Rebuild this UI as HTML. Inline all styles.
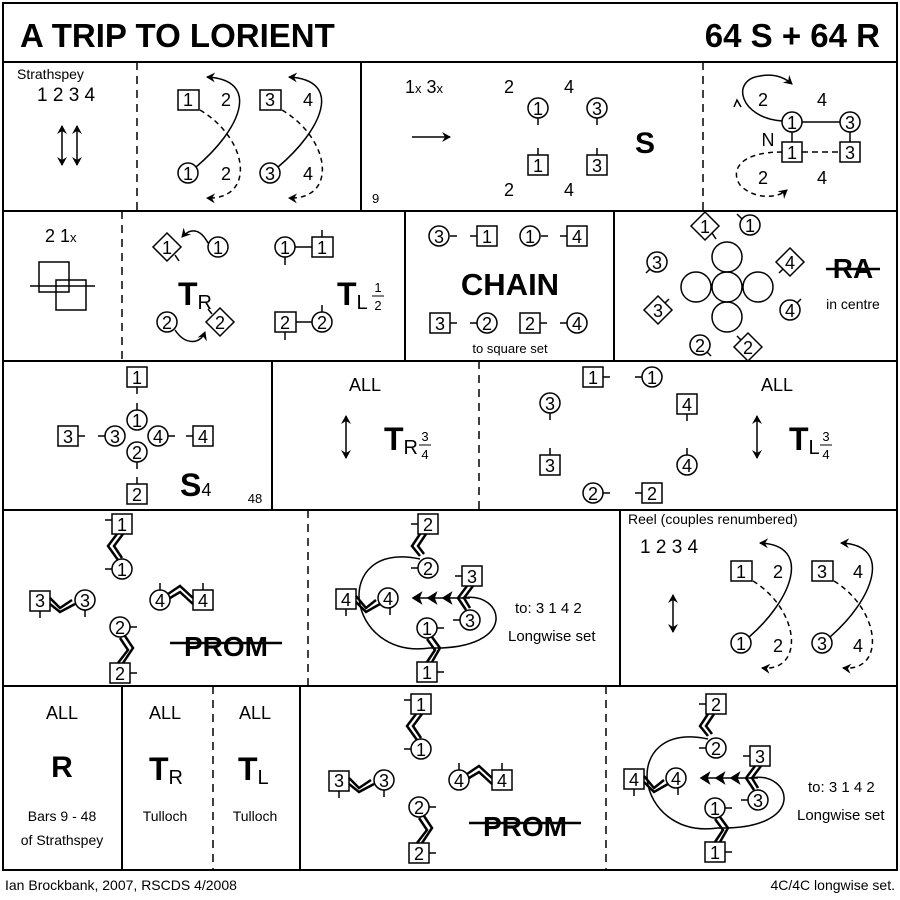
<!DOCTYPE html>
<html><head><meta charset="utf-8"><style>
html,body{margin:0;padding:0;background:#fff}
svg{display:block}
text{font-family:"Liberation Sans",sans-serif;fill:#000}
.n{font-size:18px;text-anchor:middle;dominant-baseline:central}
.s{font-size:14px}
.b{font-weight:bold}
.m{text-anchor:middle}
</style></head><body>
<svg width="900" height="900" viewBox="0 0 900 900" xmlns="http://www.w3.org/2000/svg" fill="none" stroke="#000" stroke-width="1.5">
<defs>
<marker id="ah" markerWidth="10" markerHeight="10" refX="8" refY="5" orient="auto-start-reverse" markerUnits="userSpaceOnUse"><path d="M0,0 L9,5 L0,10 L3,5 Z" fill="#000" stroke="none"/></marker>
</defs>
<!-- frame -->
<rect x="3" y="3" width="894" height="867" stroke-width="2"/>
<g stroke-width="2">
<line x1="3" y1="62" x2="897" y2="62"/><line x1="3" y1="211" x2="897" y2="211"/>
<line x1="3" y1="361" x2="897" y2="361"/><line x1="3" y1="510" x2="897" y2="510"/>
<line x1="3" y1="686" x2="897" y2="686"/>
<line x1="361" y1="62" x2="361" y2="211"/><line x1="405" y1="211" x2="405" y2="361"/>
<line x1="614" y1="211" x2="614" y2="361"/><line x1="272" y1="361" x2="272" y2="510"/>
<line x1="620" y1="510" x2="620" y2="686"/><line x1="122" y1="686" x2="122" y2="870"/>
<line x1="300" y1="686" x2="300" y2="870"/>
</g>
<g stroke-dasharray="8,6">
<line x1="137" y1="62" x2="137" y2="211"/><line x1="703" y1="62" x2="703" y2="211"/>
<line x1="122" y1="211" x2="122" y2="361"/><line x1="479" y1="361" x2="479" y2="510"/>
<line x1="308" y1="510" x2="308" y2="686"/><line x1="213" y1="686" x2="213" y2="870"/>
<line x1="606" y1="686" x2="606" y2="870"/>
</g>
<g stroke="none">
<text x="20" y="47" class="b" font-size="33">A TRIP TO LORIENT</text>
<text x="880" y="47" class="b" font-size="33" text-anchor="end">64 S + 64 R</text>
<text x="5" y="890" class="s">Ian Brockbank, 2007, RSCDS 4/2008</text>
<text x="895" y="890" class="s" text-anchor="end">4C/4C longwise set.</text>
</g>

<!-- ROW 1 -->
<g stroke="none">
<text x="17" y="79" class="s">Strathspey</text>
<text x="37" y="101" font-size="19">1 2 3 4</text>
</g>
<line x1="62" y1="126" x2="62" y2="165" marker-start="url(#ah)" marker-end="url(#ah)"/>
<line x1="77" y1="126" x2="77" y2="165" marker-start="url(#ah)" marker-end="url(#ah)"/>
<g>
<rect x="178" y="90" width="21" height="20"/><rect x="260" y="90" width="21" height="20"/>
<circle cx="188" cy="173" r="10"/><circle cx="270" cy="173" r="10"/>
<path d="M196,167 C240,130 262,80 207,77" marker-end="url(#ah)"/>
<path d="M278,167 C322,130 344,80 289,77" marker-end="url(#ah)"/>
<path d="M200,110 C250,140 255,200 207,198" stroke-dasharray="5,4" marker-end="url(#ah)"/>
<path d="M282,110 C332,140 337,200 289,198" stroke-dasharray="5,4" marker-end="url(#ah)"/>
</g>
<g stroke="none">
<text x="188" y="100" class="n">1</text><text x="226" y="100" class="n">2</text>
<text x="270" y="100" class="n">3</text><text x="308" y="100" class="n">4</text>
<text x="188" y="174" class="n">1</text><text x="226" y="174" class="n">2</text>
<text x="270" y="174" class="n">3</text><text x="308" y="174" class="n">4</text>
<text x="405" y="93" font-size="18">1<tspan font-size="13">x</tspan> 3<tspan font-size="13">x</tspan></text>
<text x="372" y="203" font-size="13">9</text>
<text x="509" y="87" class="n">2</text><text x="569" y="87" class="n">4</text>
<text x="509" y="190" class="n">2</text><text x="569" y="190" class="n">4</text>
<text x="538" y="109" class="n">1</text><text x="597" y="109" class="n">3</text>
<text x="538" y="166" class="n">1</text><text x="597" y="166" class="n">3</text>
<text x="645" y="153" class="b m" font-size="30">S</text>
</g>
<line x1="412" y1="137" x2="450" y2="137" marker-end="url(#ah)"/>
<circle cx="538" cy="108" r="10"/><circle cx="597" cy="108" r="10"/>
<line x1="538" y1="118" x2="538" y2="125"/><line x1="597" y1="118" x2="597" y2="125"/>
<rect x="528" y="155" width="20" height="20"/><rect x="587" y="155" width="20" height="20"/>
<line x1="538" y1="148" x2="538" y2="155"/><line x1="597" y1="148" x2="597" y2="155"/>
<!-- right of row 1 -->
<circle cx="792" cy="122" r="10"/><circle cx="850" cy="122" r="10"/>
<line x1="802" y1="122" x2="840" y2="122"/>
<rect x="782" y="142" width="20" height="20"/><rect x="840" y="142" width="20" height="20"/>
<line x1="792" y1="132" x2="792" y2="142"/><line x1="850" y1="132" x2="850" y2="142"/>
<line x1="802" y1="152" x2="840" y2="152" stroke-dasharray="6,4"/>
<path d="M782,121 C740,118 730,80 760,76 C775,73 785,78 792,84" marker-end="url(#ah)"/>
<path d="M734,107 L737,100 L741,107" />
<path d="M782,152 C740,152 730,170 740,185 C752,198 775,200 787,190" stroke-dasharray="5,4" marker-end="url(#ah)"/>
<g stroke="none">
<text x="763" y="100" class="n">2</text><text x="822" y="100" class="n">4</text>
<text x="768" y="140" class="n" font-size="14">N</text>
<text x="792" y="123" class="n">1</text><text x="850" y="123" class="n">3</text>
<text x="792" y="153" class="n">1</text><text x="850" y="153" class="n">3</text>
<text x="763" y="178" class="n">2</text><text x="822" y="178" class="n">4</text>
</g>

<!-- ROW 2 -->
<g stroke="none"><text x="45" y="242" font-size="18">2 1<tspan font-size="13">x</tspan></text></g>
<rect x="39" y="262" width="30" height="30"/><rect x="56" y="280" width="30" height="30"/>
<line x1="30" y1="286" x2="95" y2="286"/>
<g>
<path d="M167,233 L181,247 L167,261 L153,247 Z"/><line x1="175" y1="255" x2="179" y2="261"/>
<circle cx="218" cy="247" r="10"/>
<path d="M208,243 C200,228 190,228 182,237" marker-end="url(#ah)"/>
<circle cx="167" cy="322" r="10"/>
<path d="M220,308 L234,322 L220,336 L206,322 Z"/><line x1="212" y1="314" x2="208" y2="309"/>
<path d="M175,330 C185,345 200,345 205,332" marker-end="url(#ah)"/>
<circle cx="285" cy="247" r="10"/><rect x="312" y="237" width="21" height="20"/>
<line x1="295" y1="247" x2="312" y2="247"/><line x1="285" y1="257" x2="285" y2="265"/><line x1="322" y1="230" x2="322" y2="237"/>
<rect x="275" y="312" width="21" height="20"/><circle cx="322" cy="322" r="10"/>
<line x1="296" y1="322" x2="312" y2="322"/><line x1="285" y1="332" x2="285" y2="340"/><line x1="322" y1="305" x2="322" y2="312"/>
</g>
<g stroke="none">
<text x="167" y="248" class="n">1</text><text x="218" y="248" class="n">1</text>
<text x="167" y="323" class="n">2</text><text x="220" y="323" class="n">2</text>
<text x="285" y="248" class="n">1</text><text x="322" y="248" class="n">1</text>
<text x="285" y="323" class="n">2</text><text x="322" y="323" class="n">2</text>
<text x="178" y="305" class="b" font-size="32">T<tspan font-weight="normal" font-size="20" dy="4">R</tspan></text>
<text x="337" y="305" class="b" font-size="32">T<tspan font-weight="normal" font-size="20" dy="4">L</tspan></text>
<text x="378" y="292" font-size="13" class="m">1</text>
<text x="378" y="310" font-size="13" class="m">2</text>
</g>
<line x1="372" y1="296" x2="384" y2="296" stroke-width="1"/>
<!-- chain -->
<g>
<circle cx="439" cy="236" r="10"/><line x1="450" y1="236" x2="457" y2="236"/>
<rect x="477" y="226" width="20" height="20"/><line x1="470" y1="236" x2="477" y2="236"/>
<circle cx="530" cy="236" r="10"/><line x1="541" y1="236" x2="548" y2="236"/>
<rect x="567" y="226" width="20" height="20"/><line x1="560" y1="236" x2="567" y2="236"/>
<rect x="430" y="313" width="20" height="20"/><line x1="450" y1="323" x2="457" y2="323"/>
<circle cx="487" cy="323" r="10"/><line x1="470" y1="323" x2="477" y2="323"/>
<rect x="520" y="313" width="20" height="20"/><line x1="540" y1="323" x2="547" y2="323"/>
<circle cx="577" cy="323" r="10"/><line x1="560" y1="323" x2="567" y2="323"/>
</g>
<g stroke="none">
<text x="439" y="237" class="n">3</text><text x="487" y="237" class="n">1</text>
<text x="530" y="237" class="n">1</text><text x="577" y="237" class="n">4</text>
<text x="440" y="324" class="n">3</text><text x="487" y="324" class="n">2</text>
<text x="530" y="324" class="n">2</text><text x="577" y="324" class="n">4</text>
<text x="510" y="295" class="b m" font-size="31">CHAIN</text>
<text x="510" y="353" class="m" font-size="13">to square set</text>
</g>
<!-- RA -->
<g>
<circle cx="727" cy="287" r="15"/><circle cx="727" cy="257" r="15"/><circle cx="727" cy="317" r="15"/>
<circle cx="696" cy="287" r="15"/><circle cx="758" cy="287" r="15"/>
<path d="M705,212 L719,226 L705,240 L691,226 Z"/><line x1="712" y1="233" x2="716" y2="239"/>
<circle cx="750" cy="225" r="10"/><line x1="742" y1="219" x2="737" y2="214"/>
<circle cx="657" cy="262" r="10"/><line x1="650" y1="269" x2="646" y2="273"/>
<path d="M790,248 L804,262 L790,276 L776,262 Z"/><line x1="783" y1="269" x2="779" y2="273"/>
<path d="M658,296 L672,310 L658,324 L644,310 Z"/><line x1="665" y1="303" x2="669" y2="299"/>
<circle cx="790" cy="310" r="10"/><line x1="797" y1="303" x2="801" y2="299"/>
<circle cx="700" cy="345" r="10"/><line x1="707" y1="352" x2="711" y2="356"/>
<path d="M748,333 L762,347 L748,361 L734,347 Z"/><line x1="741" y1="340" x2="737" y2="336"/>
</g>
<g stroke="none">
<text x="705" y="227" class="n">1</text><text x="750" y="226" class="n">1</text>
<text x="657" y="263" class="n">3</text><text x="790" y="263" class="n">4</text>
<text x="658" y="311" class="n">3</text><text x="790" y="311" class="n">4</text>
<text x="700" y="346" class="n">2</text><text x="748" y="348" class="n">2</text>
<text x="853" y="278" class="b m" font-size="28">RA</text>
<text x="853" y="309" class="m" font-size="14">in centre</text>
</g>
<line x1="826" y1="269" x2="880" y2="269" stroke-width="2.5"/>

<!-- ROW 3 -->
<g>
<rect x="127" y="367" width="20" height="20"/><line x1="137" y1="387" x2="137" y2="394"/>
<circle cx="137" cy="420" r="10"/><line x1="137" y1="403" x2="137" y2="410"/>
<circle cx="115" cy="436" r="10"/><line x1="98" y1="436" x2="105" y2="436"/>
<circle cx="158" cy="436" r="10"/><line x1="168" y1="436" x2="175" y2="436"/>
<circle cx="137" cy="452" r="10"/><line x1="137" y1="462" x2="137" y2="469"/>
<rect x="58" y="426" width="20" height="20"/><line x1="78" y1="436" x2="85" y2="436"/>
<rect x="193" y="426" width="20" height="20"/><line x1="186" y1="436" x2="193" y2="436"/>
<rect x="127" y="484" width="20" height="20"/><line x1="137" y1="477" x2="137" y2="484"/>
</g>
<g stroke="none">
<text x="137" y="378" class="n">1</text><text x="137" y="421" class="n">1</text>
<text x="115" y="437" class="n">3</text><text x="158" y="437" class="n">4</text>
<text x="137" y="453" class="n">2</text><text x="68" y="437" class="n">3</text>
<text x="203" y="437" class="n">4</text><text x="137" y="495" class="n">2</text>
<text x="180" y="496" class="b" font-size="32">S<tspan font-weight="normal" font-size="18">4</tspan></text>
<text x="255" y="503" class="m" font-size="13">48</text>
<text x="365" y="391" class="m" font-size="18">ALL</text>
<text x="384" y="450" class="b" font-size="32">T<tspan font-weight="normal" font-size="20" dy="4">R</tspan></text>
<text x="425" y="441" font-size="13" class="m">3</text><text x="425" y="459" font-size="13" class="m">4</text>
<text x="777" y="391" class="m" font-size="18">ALL</text>
<text x="789" y="450" class="b" font-size="32">T<tspan font-weight="normal" font-size="20" dy="4">L</tspan></text>
<text x="826" y="441" font-size="13" class="m">3</text><text x="826" y="459" font-size="13" class="m">4</text>
</g>
<line x1="419" y1="445" x2="431" y2="445" stroke-width="1"/>
<line x1="820" y1="445" x2="832" y2="445" stroke-width="1"/>
<line x1="346" y1="416" x2="346" y2="458" marker-start="url(#ah)" marker-end="url(#ah)"/>
<line x1="757" y1="416" x2="757" y2="458" marker-start="url(#ah)" marker-end="url(#ah)"/>
<g>
<rect x="583" y="367" width="20" height="20"/><line x1="603" y1="377" x2="610" y2="377"/>
<circle cx="652" cy="377" r="10"/><line x1="635" y1="377" x2="642" y2="377"/>
<circle cx="550" cy="403" r="10"/><line x1="550" y1="413" x2="550" y2="420"/>
<rect x="677" y="394" width="20" height="20"/><line x1="687" y1="414" x2="687" y2="421"/>
<rect x="540" y="455" width="20" height="20"/><line x1="550" y1="448" x2="550" y2="455"/>
<circle cx="687" cy="465" r="10"/><line x1="687" y1="448" x2="687" y2="455"/>
<circle cx="593" cy="493" r="10"/><line x1="603" y1="493" x2="610" y2="493"/>
<rect x="642" y="483" width="20" height="20"/><line x1="635" y1="493" x2="642" y2="493"/>
</g>
<g stroke="none">
<text x="593" y="378" class="n">1</text><text x="652" y="378" class="n">1</text>
<text x="550" y="404" class="n">3</text><text x="687" y="405" class="n">4</text>
<text x="550" y="466" class="n">3</text><text x="687" y="466" class="n">4</text>
<text x="593" y="494" class="n">2</text><text x="652" y="494" class="n">2</text>
</g>

<!-- ROW 4 left PROM -->
<g id="prom">
<rect x="112" y="514" width="20" height="20"/><line x1="105" y1="520" x2="112" y2="520"/>
<path d="M117,534 L108,546 L118,560 M123,534 L114,546 L122,558" stroke-width="2.5"/>
<circle cx="122" cy="569" r="10"/><line x1="105" y1="569" x2="112" y2="569"/>
<rect x="30" y="591" width="20" height="20"/><line x1="40" y1="611" x2="40" y2="618"/>
<path d="M50,598 L60,608 L72,600 M50,604 L60,612 L75,604" stroke-width="2.5"/>
<circle cx="85" cy="600" r="10"/><line x1="85" y1="610" x2="85" y2="617"/>
<circle cx="160" cy="600" r="10"/><line x1="160" y1="583" x2="160" y2="590"/>
<path d="M168,594 L180,586 L193,598 M170,598 L180,592 L193,604" stroke-width="2.5"/>
<rect x="193" y="590" width="20" height="20"/><line x1="203" y1="583" x2="203" y2="590"/>
<circle cx="120" cy="627" r="10"/><line x1="130" y1="627" x2="137" y2="627"/>
<path d="M125,636 L133,648 L123,663 M120,638 L128,650 L118,663" stroke-width="2.5"/>
<rect x="110" y="663" width="20" height="20"/><line x1="130" y1="673" x2="137" y2="673"/>
</g>
<line x1="170" y1="643" x2="282" y2="643" stroke-width="2.5"/>
<g stroke="none">
<text x="122" y="525" class="n">1</text><text x="122" y="570" class="n">1</text>
<text x="40" y="601" class="n">3</text><text x="85" y="601" class="n">3</text>
<text x="160" y="601" class="n">4</text><text x="203" y="601" class="n">4</text>
<text x="120" y="628" class="n">2</text><text x="120" y="674" class="n">2</text>
<text x="226" y="656" class="b m" font-size="28">PROM</text>
</g>
<!-- ROW 4 middle -->
<g id="mid">
<path d="M420,559 C330,540 345,660 430,648 C520,650 505,590 462,598"/>
<rect x="418" y="514" width="20" height="20"/><line x1="411" y1="524" x2="418" y2="524"/>
<path d="M420,534 L412,546 L420,556 M426,534 L418,546 L424,554" stroke-width="2.5"/>
<circle cx="428" cy="568" r="10"/><line x1="411" y1="568" x2="418" y2="568"/>
<rect x="462" y="566" width="20" height="20"/><line x1="455" y1="576" x2="462" y2="576"/>
<path d="M467,586 L458,598 L466,610 M473,586 L464,598 L470,608" stroke-width="2.5"/>
<circle cx="470" cy="620" r="10"/><line x1="453" y1="620" x2="460" y2="620"/>
<rect x="336" y="589" width="20" height="20"/><line x1="346" y1="609" x2="346" y2="616"/>
<path d="M356,596 L366,608 L376,600 M356,602 L366,612 L380,604" stroke-width="2.5"/>
<circle cx="388" cy="598" r="10"/><line x1="390" y1="608" x2="390" y2="615"/>
<circle cx="427" cy="628" r="10"/><line x1="437" y1="628" x2="444" y2="628"/>
<path d="M432,637 L440,648 L432,662 M427,639 L435,650 L427,662" stroke-width="2.5"/>
<rect x="417" y="662" width="20" height="20"/><line x1="437" y1="672" x2="444" y2="672"/>
<line x1="470" y1="598" x2="413" y2="598"/>
<path d="M421,593 L413,598 L421,603 L419,598 Z M436,593 L428,598 L436,603 L434,598 Z M451,593 L443,598 L451,603 L449,598 Z" fill="#000"/>
</g>
<g stroke="none">
<text x="428" y="525" class="n">2</text><text x="428" y="569" class="n">2</text>
<text x="472" y="577" class="n">3</text><text x="470" y="621" class="n">3</text>
<text x="346" y="600" class="n">4</text><text x="388" y="599" class="n">4</text>
<text x="427" y="629" class="n">1</text><text x="427" y="673" class="n">1</text>
<text x="515" y="613" font-size="15">to:   3 1 4 2</text>
<text x="508" y="641" font-size="15">Longwise set</text>
</g>
<!-- ROW 4 right reel -->
<g stroke="none">
<text x="628" y="524" font-size="14">Reel  (couples renumbered)</text>
<text x="640" y="553" font-size="19">1 2 3 4</text>
<text x="741" y="572" class="n">1</text><text x="778" y="572" class="n">2</text>
<text x="822" y="572" class="n">3</text><text x="858" y="572" class="n">4</text>
<text x="741" y="644" class="n">1</text><text x="778" y="646" class="n">2</text>
<text x="822" y="644" class="n">3</text><text x="858" y="646" class="n">4</text>
</g>
<line x1="673" y1="595" x2="673" y2="632" marker-start="url(#ah)" marker-end="url(#ah)"/>
<rect x="731" y="561" width="21" height="20"/><rect x="812" y="561" width="21" height="20"/>
<circle cx="741" cy="643" r="10"/><circle cx="822" cy="643" r="10"/>
<path d="M749,637 C792,600 813,545 760,543" marker-end="url(#ah)"/>
<path d="M830,637 C873,600 894,545 841,543" marker-end="url(#ah)"/>
<path d="M753,581 C800,610 805,672 762,668" stroke-dasharray="5,4" marker-end="url(#ah)"/>
<path d="M834,581 C881,610 886,672 843,668" stroke-dasharray="5,4" marker-end="url(#ah)"/>

<!-- ROW 5 -->
<g stroke="none">
<text x="62" y="719" class="m" font-size="18">ALL</text>
<text x="62" y="777" class="b m" font-size="30">R</text>
<text x="62" y="821" class="m" font-size="14">Bars 9 - 48</text>
<text x="62" y="845" class="m" font-size="14">of Strathspey</text>
<text x="165" y="719" class="m" font-size="18">ALL</text>
<text x="149" y="780" class="b" font-size="32">T<tspan font-weight="normal" font-size="20" dy="4">R</tspan></text>
<text x="165" y="821" class="m" font-size="14">Tulloch</text>
<text x="255" y="719" class="m" font-size="18">ALL</text>
<text x="238" y="780" class="b" font-size="32">T<tspan font-weight="normal" font-size="20" dy="4">L</tspan></text>
<text x="255" y="821" class="m" font-size="14">Tulloch</text>
</g>
<use href="#prom" transform="translate(299,180)"/>
<line x1="469" y1="823" x2="581" y2="823" stroke-width="2.5"/>
<g stroke="none">
<text x="421" y="705" class="n">1</text><text x="421" y="750" class="n">1</text>
<text x="339" y="781" class="n">3</text><text x="384" y="781" class="n">3</text>
<text x="459" y="781" class="n">4</text><text x="502" y="781" class="n">4</text>
<text x="419" y="808" class="n">2</text><text x="419" y="854" class="n">2</text>
<text x="525" y="836" class="b m" font-size="28">PROM</text>
</g>
<use href="#mid" transform="translate(288,180)"/>
<g stroke="none">
<text x="716" y="705" class="n">2</text><text x="716" y="749" class="n">2</text>
<text x="760" y="757" class="n">3</text><text x="758" y="801" class="n">3</text>
<text x="634" y="780" class="n">4</text><text x="676" y="779" class="n">4</text>
<text x="715" y="809" class="n">1</text><text x="715" y="853" class="n">1</text>
<text x="808" y="792" font-size="15">to:   3 1 4 2</text>
<text x="797" y="820" font-size="15">Longwise set</text>
</g>
</svg>
</body></html>
